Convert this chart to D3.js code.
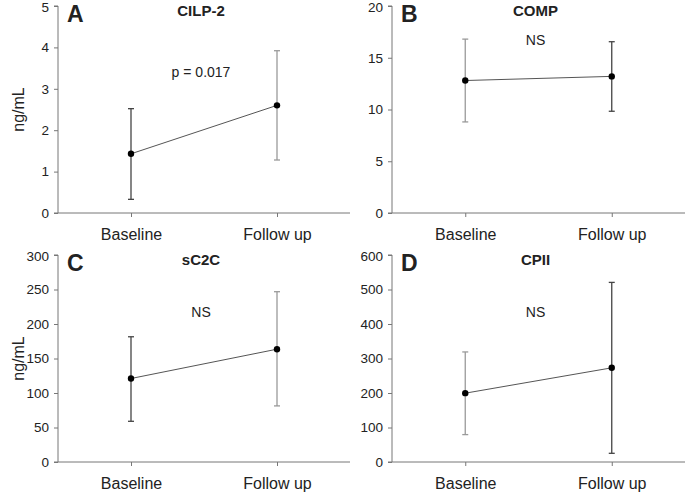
<!DOCTYPE html>
<html>
<head>
<meta charset="utf-8">
<script src="https://cdn.jsdelivr.net/npm/d3@7"></script>
<style>
body { margin: 0; background: #fff; }
text { font-family: Arial, "Liberation Sans", sans-serif; fill: #222; }
</style>
</head>
<body>
<script>
var categories = ["Baseline", "Follow up"];

// mean, upper and lower whisker per panel
var cilpMean = [1.43, 2.60], cilpHigh = [2.52, 3.92], cilpLow = [0.33, 1.28];
var compMean = [12.8, 13.2], compHigh = [16.8, 16.55], compLow = [8.8, 9.83];
var c2cMean = [121, 163.5], c2cHigh = [181.5, 246.8], c2cLow = [59, 81.3];
var cpiiMean = [199.5, 273], cpiiHigh = [319, 520.6], cpiiLow = [79.4, 25.2];

var panels = [
  {letter: "A", title: "CILP-2", note: "p = 0.017", max: 5, step: 1, ylab: true,
   mean: cilpMean, hi: cilpHigh, lo: cilpLow, barCol: ["#444", "#9a9a9a"],
   x0: 58, x1: 350, top: 6, bot: 213, noteY: 77},
  {letter: "B", title: "COMP", note: "NS", max: 20, step: 5, ylab: false,
   mean: compMean, hi: compHigh, lo: compLow, barCol: ["#9a9a9a", "#444"],
   x0: 392, x1: 685, top: 6, bot: 213, noteY: 45},
  {letter: "C", title: "sC2C", note: "NS", max: 300, step: 50, ylab: true,
   mean: c2cMean, hi: c2cHigh, lo: c2cLow, barCol: ["#444", "#9a9a9a"],
   x0: 58, x1: 350, top: 255, bot: 462, noteY: 317},
  {letter: "D", title: "CPII", note: "NS", max: 600, step: 100, ylab: false,
   mean: cpiiMean, hi: cpiiHigh, lo: cpiiLow, barCol: ["#9a9a9a", "#444"],
   x0: 392, x1: 685, top: 255, bot: 462, noteY: 317}
];

var svg = d3.select("body").append("svg").attr("width", 685).attr("height", 492);

panels.forEach(function (p) {
  var x = d3.scalePoint().domain(categories).range([p.x0, p.x1]).padding(0.5);
  var y = d3.scaleLinear().domain([0, p.max]).range([p.bot, p.top]);
  var g = svg.append("g");

  var yAxis = g.append("g").attr("transform", "translate(" + p.x0 + ",0)")
    .call(d3.axisLeft(y).tickValues(d3.range(0, p.max + 0.001, p.step))
      .tickFormat(d3.format("d")).tickSize(4).tickPadding(5));
  var xAxis = g.append("g").attr("transform", "translate(0," + p.bot + ")")
    .call(d3.axisBottom(x).tickSize(4).tickPadding(12));
  [yAxis, xAxis].forEach(function (a) {
    a.select(".domain").attr("stroke", "#777");
    a.selectAll(".tick line").attr("stroke", "#777");
  });
  yAxis.selectAll("text").style("font-size", "13.5px").attr("fill", "#222")
    .attr("dy", function (d) { return d === p.max ? "0.42em" : "0.32em"; });
  xAxis.selectAll("text").style("font-size", "16px").attr("fill", "#222");
  yAxis.select(".domain").attr("d", "M-4," + p.bot + "H0V" + p.top + "H-4");
  xAxis.select(".domain").attr("d", "M" + p.x0 + ",0H" + p.x1);

  if (p.ylab) {
    g.append("text").attr("transform", "translate(24," + ((p.top + p.bot) / 2) + ") rotate(-90)")
      .attr("text-anchor", "middle").style("font-size", "16px").text("ng/mL");
  }

  g.append("text").attr("x", p.x0 + 9).attr("y", p.top + 16)
    .style("font-size", "23px").style("font-weight", "bold").attr("fill", "#111").text(p.letter);
  g.append("text").attr("x", (p.x0 + p.x1) / 2 - 3).attr("y", p.top + 10)
    .attr("text-anchor", "middle").style("font-size", "15px").style("font-weight", "bold").text(p.title);
  g.append("text").attr("x", (p.x0 + p.x1) / 2 - 3).attr("y", p.noteY)
    .attr("text-anchor", "middle").style("font-size", "14px").text(p.note);

  categories.forEach(function (c, i) {
    var cx = x(c);
    g.append("line").attr("x1", cx).attr("x2", cx).attr("y1", y(p.lo[i])).attr("y2", y(p.hi[i]))
      .attr("stroke", p.barCol[i]).attr("stroke-width", 1.3);
    [p.lo[i], p.hi[i]].forEach(function (v) {
      g.append("line").attr("x1", cx - 3).attr("x2", cx + 3).attr("y1", y(v)).attr("y2", y(v))
        .attr("stroke", p.barCol[i]).attr("stroke-width", 1.3);
    });
  });

  var line = d3.line().x(function (d, i) { return x(categories[i]); }).y(function (d) { return y(d); });
  g.append("path").datum(p.mean).attr("d", line).attr("fill", "none")
    .attr("stroke", "#555").attr("stroke-width", 1);

  g.selectAll("circle").data(p.mean).enter().append("circle")
    .attr("cx", function (d, i) { return x(categories[i]); })
    .attr("cy", function (d) { return y(d); })
    .attr("r", 3.2).attr("fill", "#000");
});
</script>
</body>
</html>
